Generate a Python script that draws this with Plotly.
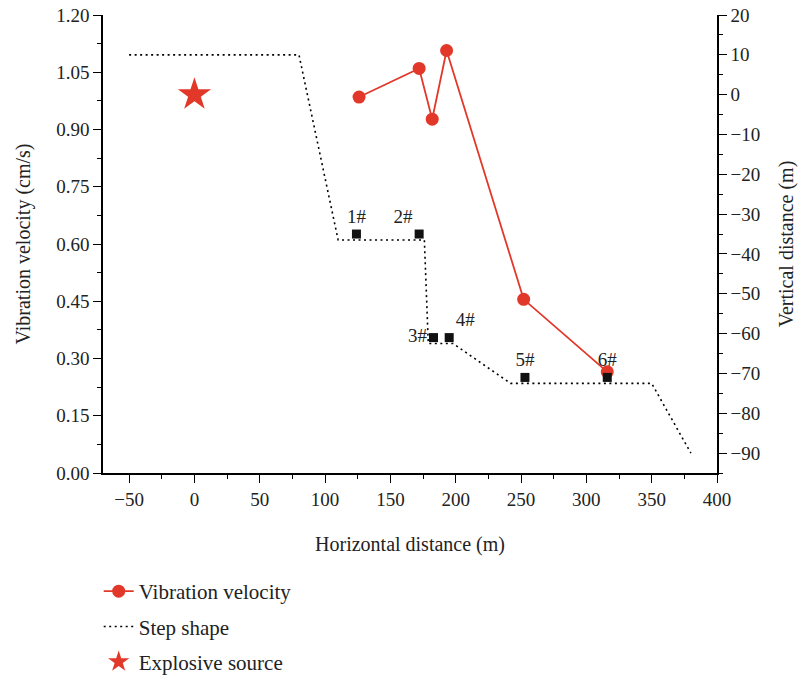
import plotly.graph_objects as go

# ---- data ----
vib_x = [126, 172, 182, 193, 252, 316]
vib_y = [0.985, 1.06, 0.927, 1.107, 0.455, 0.265]

step_x = [-50, 80, 110, 176, 179, 198, 242, 350, 380]
step_y = [10, 10, -36.5, -36.5, -62.5, -62.5, -72.5, -72.5, -90]

mon_x = [124, 172, 183, 195, 253, 316]
mon_y = [-35, -35, -61, -61, -71, -71]
mon_labels = ["1#", "2#", "3#", "4#", "5#", "6#"]
mon_textpos = ["top center", "top left", "middle left", "top right", "top center", "top center"]

src_x = [0]
src_y = [0]

RED = "#E2382A"
FONT = "Liberation Serif"

fig = go.Figure()

fig.add_trace(go.Scatter(
    x=vib_x, y=vib_y, mode="lines+markers", name="Vibration velocity",
    line=dict(color=RED, width=1.8),
    marker=dict(color=RED, size=13, symbol="circle"),
    legendgroup="a", yaxis="y",
))
fig.add_trace(go.Scatter(
    x=step_x, y=step_y, mode="lines", name="Step shape",
    line=dict(color="black", width=1.6, dash="2px,3.5px"),
    legendgroup="b", yaxis="y2",
))
fig.add_trace(go.Scatter(
    x=src_x, y=src_y, mode="markers", name="Explosive source",
    marker=dict(color=RED, size=25, symbol="star", line=dict(width=0)),
    legendgroup="c", yaxis="y2",
))
fig.add_trace(go.Scatter(
    x=mon_x, y=mon_y, mode="markers+text", text=mon_labels,
    textposition=mon_textpos,
    textfont=dict(family=FONT, size=19, color="#222"),
    marker=dict(color="#111", size=9, symbol="square"),
    showlegend=False, yaxis="y2",
))

axis_common = dict(
    showline=True, linecolor="black", linewidth=1.5,
    ticks="outside", ticklen=8, tickwidth=1.3, tickcolor="black",
    showgrid=False, zeroline=False,
    tickfont=dict(family=FONT, size=19, color="#222"),
)

fig.update_layout(
    width=801, height=680,
    margin=dict(l=103, r=84, t=15, b=207, autoexpand=False),
    paper_bgcolor="white", plot_bgcolor="white",
    font=dict(family=FONT, size=19, color="#222"),
    xaxis=dict(
        range=[-70, 400], dtick=50, tick0=0, automargin=False,
        minor=dict(dtick=25, ticks="outside", ticklen=4, tickcolor="black", tickwidth=1.2),
        title=dict(text="Horizontal distance (m)", font=dict(family=FONT, size=20), standoff=28),
        **axis_common,
    ),
    yaxis=dict(
        range=[0, 1.2], dtick=0.15, tick0=0, tickformat=".2f", automargin=False,
        minor=dict(dtick=0.075, ticks="outside", ticklen=4, tickcolor="black", tickwidth=1.2),
        title=dict(text="Vibration velocity (cm/s)", font=dict(family=FONT, size=20), standoff=20),
        **axis_common,
    ),
    yaxis2=dict(
        range=[-95, 20], dtick=10, tick0=0, overlaying="y", side="right", automargin=False,
        minor=dict(dtick=5, ticks="outside", ticklen=4, tickcolor="black", tickwidth=1.2),
        title=dict(text="Vertical distance (m)", font=dict(family=FONT, size=20), standoff=20),
        **axis_common,
    ),
    legend=dict(
        x=-0.007, y=-0.214, xanchor="left", yanchor="top",
        font=dict(family=FONT, size=21, color="#222"),
        tracegroupgap=5, bgcolor="rgba(0,0,0,0)",
    ),
    showlegend=True,
)

fig.write_html("out.html")
